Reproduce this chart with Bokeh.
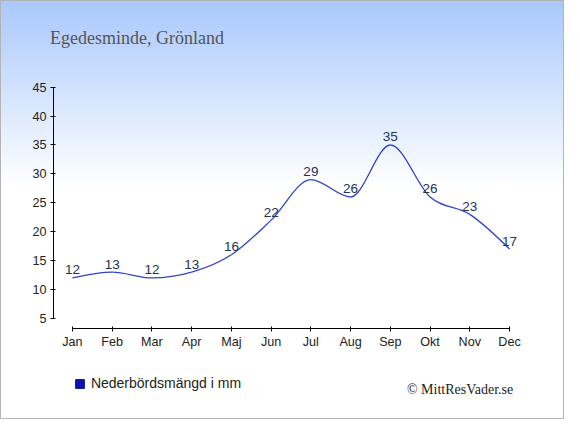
import numpy as np
from bokeh.plotting import figure
from bokeh.models import Range1d, FixedTicker, Label, Legend, LegendItem, ColumnDataSource
from bokeh.core.properties import value
from bokeh.embed import file_html
from bokeh.resources import INLINE

months = ["Jan", "Feb", "Mar", "Apr", "Maj", "Jun", "Jul", "Aug", "Sep", "Okt", "Nov", "Dec"]
precip = [12, 13, 12, 13, 16, 22, 29, 26, 35, 26, 23, 17]
y_ticks = [5, 10, 15, 20, 25, 30, 35, 40, 45]
title_text = "Egedesminde, Grönland"
legend_text = "Nederbördsmängd i mm"
credit_text = "© MittResVader.se"

W, H = 564, 419
KX, KY = W / 580.0, H / 435.0          # reference-pixel -> figure-pixel scale

# layout (in reference pixels)
jan_px, dec_px = 74.0, 523.5           # x of first / last month
top_px, bot_px = 90.0, 330.0           # y of 45 / 5
yaxis_px, xaxis_px = 54.5, 340.7

fx = lambda v: v * KX
fy = lambda v: v * KY
ppx = (fx(dec_px) - fx(jan_px)) / 11.0
ppy = (fy(bot_px) - fy(top_px)) / 40.0
x0 = -fx(jan_px) / ppx
x1 = 11 + (W - fx(dec_px)) / ppx
y1 = 45 + fy(top_px) / ppy
y0 = 5 - (H - fy(bot_px)) / ppy

p = figure(width=W, height=H, output_backend="svg", toolbar_location=None,
           x_range=Range1d(x0, x1), y_range=Range1d(y0, y1),
           min_border=0)
p.styles = {"background": "linear-gradient(to bottom, #a8c8fc 0px, #ffffff %dpx, #ffffff 100%%)" % int(fy(195))}
p.border_fill_alpha = 0
p.background_fill_alpha = 0
p.outline_line_color = "#b4b4b4"
p.outline_line_width = 1
p.grid.visible = False

xs = list(range(len(months)))

# axes
p.xaxis.ticker = FixedTicker(ticks=xs)
p.xaxis.major_label_overrides = {i: m for i, m in enumerate(months)}
p.xaxis.bounds = (0, len(months) - 1)
p.xaxis.fixed_location = 5 - (fy(xaxis_px) - fy(bot_px)) / ppy
p.yaxis.ticker = FixedTicker(ticks=y_ticks)
p.yaxis.bounds = (y_ticks[0], y_ticks[-1])
p.yaxis.fixed_location = (fx(yaxis_px) - fx(jan_px)) / ppx
for ax in (p.xaxis, p.yaxis):
    ax.axis_line_color = "#000000"
    ax.major_tick_line_color = "#000000"
    ax.major_tick_in = 2
    ax.major_tick_out = 3
    ax.minor_tick_line_color = None
    ax.major_label_text_font = "Liberation Sans"
    ax.major_label_text_font_size = "12.6px"
    ax.major_label_text_color = "#222222"
p.xaxis.major_label_standoff = 3
p.yaxis.major_label_standoff = 4

# smooth monotone curve through the data (bezier segments)
x = np.array(xs, dtype=float)
y = np.array(precip, dtype=float)
h = np.diff(x)
s = np.diff(y) / h
n = len(x)
m = np.zeros(n)
for i in range(1, n - 1):
    if s[i - 1] * s[i] <= 0:
        m[i] = 0.0
    else:
        pp = (s[i - 1] * h[i] + s[i] * h[i - 1]) / (h[i - 1] + h[i])
        m[i] = (np.sign(s[i - 1]) + np.sign(s[i])) * min(abs(s[i - 1]), abs(s[i]), 0.5 * abs(pp))
m[0] = (3 * s[0] - m[1]) / 2
m[-1] = (3 * s[-1] - m[-2]) / 2
src = ColumnDataSource(dict(
    x0=x[:-1], y0=y[:-1], x1=x[1:], y1=y[1:],
    cx0=x[:-1] + h / 3, cy0=y[:-1] + m[:-1] * h / 3,
    cx1=x[1:] - h / 3, cy1=y[1:] - m[1:] * h / 3,
))
p.bezier(x0="x0", y0="y0", x1="x1", y1="y1", cx0="cx0", cy0="cy0", cx1="cx1", cy1="cy1",
         source=src, line_color="#3340c8", line_width=1.3)

# value labels
p.text(x=xs, y=precip, text=[str(v) for v in precip], text_align="center",
       text_baseline="alphabetic", y_offset=-8, text_font=value("Liberation Sans"),
       text_font_size="13.5px", text_color="#223355")

# legend with square swatch
dummy = p.quad(left=[np.nan], right=[np.nan], bottom=[np.nan], top=[np.nan],
               fill_color="#0a14aa", line_color="#0a14aa")
leg = Legend(items=[LegendItem(label=legend_text, renderers=[dummy])],
             location=(fx(76), H - fy(406)), orientation="horizontal",
             glyph_width=11, glyph_height=11, label_height=12, label_standoff=6,
             padding=0, margin=0, border_line_color=None, background_fill_alpha=0,
             label_text_font="Liberation Sans", label_text_font_size="14px",
             label_text_color="#222222")
p.add_layout(leg, "center")

p.add_layout(Label(x=fx(51), y=H - fy(39), x_units="screen", y_units="screen", text=title_text,
                   text_baseline="alphabetic",
                   text_font="Liberation Serif", text_font_size="18px", text_color="#555555"))
p.add_layout(Label(x=fx(418), y=H - fy(404), x_units="screen", y_units="screen", text=credit_text,
                   text_baseline="alphabetic",
                   text_font="Liberation Serif", text_font_size="14px", text_color="#222222"))

open("out.html", "w").write(file_html(p, INLINE))
